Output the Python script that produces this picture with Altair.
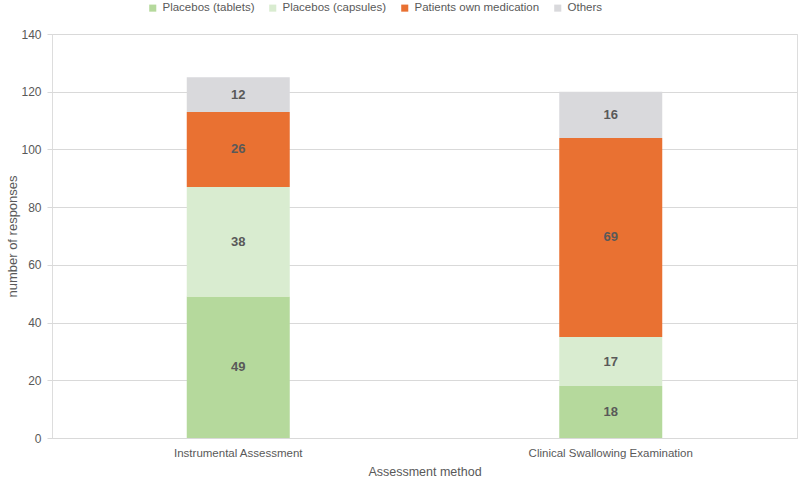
import altair as alt
import pandas as pd

categories = ["Instrumental Assessment", "Clinical Swallowing Examination"]
series = ["Placebos (tablets)", "Placebos (capsules)", "Patients own medication", "Others"]
colors = ["#b5d99c", "#d9ecd0", "#e97132", "#d9d9dc"]
values = {
    "Placebos (tablets)": [49, 18],
    "Placebos (capsules)": [38, 17],
    "Patients own medication": [26, 69],
    "Others": [12, 16],
}
y_ticks = [0, 20, 40, 60, 80, 100, 120, 140]

rows = []
for ci, c in enumerate(categories):
    cum = 0
    for si, s in enumerate(series):
        v = values[s][ci]
        rows.append({"cat": c, "series": s, "idx": si, "value": v, "mid": cum + v / 2})
        cum += v
df = pd.DataFrame(rows)

FONT = "Liberation Sans"
GRAY = "#595959"

base = alt.Chart(df)
bars = base.mark_bar(size=103).encode(
    x=alt.X("cat:N", sort=categories, title="Assessment method",
            axis=alt.Axis(labelAngle=0, labelFontSize=11.5, labelColor=GRAY, titleFontSize=12.5,
                          titleColor=GRAY, titleFontWeight="normal", ticks=False,
                          domainColor="#d9d9d9", labelPadding=9, titlePadding=7,
                          labelLimit=400, labelFont=FONT, titleFont=FONT)),
    y=alt.Y("value:Q", stack="zero", title="number of responses",
            scale=alt.Scale(domain=[0, 140], nice=False),
            axis=alt.Axis(values=y_ticks, labelFontSize=12, labelColor=GRAY, titleFontSize=13,
                          titleColor=GRAY, titleFontWeight="normal", gridColor="#d9d9d9",
                          domain=False, tickColor="#d9d9d9", tickSize=5, labelPadding=6,
                          titleX=-40, titleY=202, titleAngle=-90, titleBaseline="middle",
                          titleAlign="center", labelFont=FONT, titleFont=FONT)),
    color=alt.Color("series:N", sort=series,
                    scale=alt.Scale(domain=series, range=colors),
                    legend=alt.Legend(orient="none", legendX=95, legendY=-32, title=None,
                                      direction="horizontal",
                                      symbolType="square", symbolSize=50, symbolStrokeWidth=0,
                                      labelFontSize=11.5, labelColor=GRAY, columnPadding=12,
                                      labelFont=FONT, labelLimit=300)),
    order=alt.Order("idx:Q"),
)
labels = base.mark_text(fontSize=13, fontWeight="bold", color=GRAY, font=FONT).encode(
    x=alt.X("cat:N", sort=categories),
    y=alt.Y("mid:Q"),
    text=alt.Text("value:Q"),
)

chart = (bars + labels).properties(
    width=745, height=404,
    autosize=alt.AutoSizeParams(type="none"),
    padding={"left": 52, "top": 34, "right": 3, "bottom": 45},
).configure_view(stroke=None).configure(font=FONT)

chart.save("out.html", embed_options={"renderer": "svg", "actions": False})
